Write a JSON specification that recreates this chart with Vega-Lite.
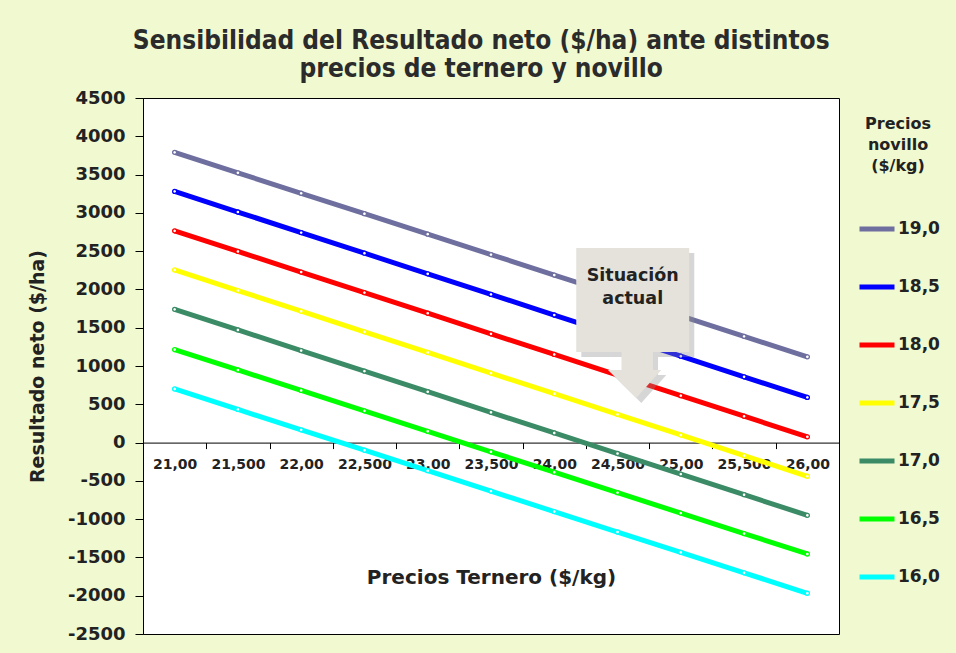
{
  "$schema": "https://vega.github.io/schema/vega-lite/v6.json",
  "autosize": {"type": "none"},
  "padding": {"left": 143, "top": 98, "right": 117, "bottom": 19},
  "width": 696,
  "height": 536,
  "background": "#f1f9d0",
  "title": {
    "text": ["Sensibilidad del Resultado neto ($/ha) ante distintos", "precios de ternero y novillo"],
    "font": "DejaVu Sans Condensed, Liberation Sans Narrow, sans-serif",
    "fontSize": 26,
    "fontWeight": "bold",
    "color": "#2b2b2b",
    "anchor": "middle",
    "frame": "bounds",
    "offset": 7,
    "dx": -12,
    "lineHeight": 28
  },
  "config": {
    "view": {"stroke": "#000000", "strokeWidth": 1, "fill": "#ffffff"},
    "axis": {"grid": false, "domainColor": "#000000", "tickColor": "#000000", "labelColor": "#222222", "titleColor": "#222222", "labelFont": "DejaVu Sans", "titleFont": "DejaVu Sans", "labelFontWeight": "bold", "titleFontWeight": "bold"}
  },
  "datasets": {
    "lines": [
      {"t": 21, "n": "19,0", "r": 3790}, {"t": 21.5, "n": "19,0", "r": 3523}, {"t": 22, "n": "19,0", "r": 3256}, {"t": 22.5, "n": "19,0", "r": 2989}, {"t": 23, "n": "19,0", "r": 2722}, {"t": 23.5, "n": "19,0", "r": 2455}, {"t": 24, "n": "19,0", "r": 2188}, {"t": 24.5, "n": "19,0", "r": 1921}, {"t": 25, "n": "19,0", "r": 1654}, {"t": 25.5, "n": "19,0", "r": 1387}, {"t": 26, "n": "19,0", "r": 1120},
      {"t": 21, "n": "18,5", "r": 3280}, {"t": 21.5, "n": "18,5", "r": 3011}, {"t": 22, "n": "18,5", "r": 2742}, {"t": 22.5, "n": "18,5", "r": 2473}, {"t": 23, "n": "18,5", "r": 2204}, {"t": 23.5, "n": "18,5", "r": 1935}, {"t": 24, "n": "18,5", "r": 1666}, {"t": 24.5, "n": "18,5", "r": 1397}, {"t": 25, "n": "18,5", "r": 1128}, {"t": 25.5, "n": "18,5", "r": 859}, {"t": 26, "n": "18,5", "r": 590},
      {"t": 21, "n": "18,0", "r": 2765}, {"t": 21.5, "n": "18,0", "r": 2496}, {"t": 22, "n": "18,0", "r": 2227}, {"t": 22.5, "n": "18,0", "r": 1958}, {"t": 23, "n": "18,0", "r": 1689}, {"t": 23.5, "n": "18,0", "r": 1420}, {"t": 24, "n": "18,0", "r": 1151}, {"t": 24.5, "n": "18,0", "r": 882}, {"t": 25, "n": "18,0", "r": 613}, {"t": 25.5, "n": "18,0", "r": 344}, {"t": 26, "n": "18,0", "r": 75},
      {"t": 21, "n": "17,5", "r": 2255}, {"t": 21.5, "n": "17,5", "r": 1985}, {"t": 22, "n": "17,5", "r": 1716}, {"t": 22.5, "n": "17,5", "r": 1446}, {"t": 23, "n": "17,5", "r": 1177}, {"t": 23.5, "n": "17,5", "r": 907}, {"t": 24, "n": "17,5", "r": 638}, {"t": 24.5, "n": "17,5", "r": 368}, {"t": 25, "n": "17,5", "r": 99}, {"t": 25.5, "n": "17,5", "r": -171}, {"t": 26, "n": "17,5", "r": -440},
      {"t": 21, "n": "17,0", "r": 1740}, {"t": 21.5, "n": "17,0", "r": 1471}, {"t": 22, "n": "17,0", "r": 1202}, {"t": 22.5, "n": "17,0", "r": 933}, {"t": 23, "n": "17,0", "r": 664}, {"t": 23.5, "n": "17,0", "r": 395}, {"t": 24, "n": "17,0", "r": 126}, {"t": 24.5, "n": "17,0", "r": -143}, {"t": 25, "n": "17,0", "r": -412}, {"t": 25.5, "n": "17,0", "r": -681}, {"t": 26, "n": "17,0", "r": -950},
      {"t": 21, "n": "16,5", "r": 1215}, {"t": 21.5, "n": "16,5", "r": 948}, {"t": 22, "n": "16,5", "r": 681}, {"t": 22.5, "n": "16,5", "r": 414}, {"t": 23, "n": "16,5", "r": 147}, {"t": 23.5, "n": "16,5", "r": -120}, {"t": 24, "n": "16,5", "r": -387}, {"t": 24.5, "n": "16,5", "r": -654}, {"t": 25, "n": "16,5", "r": -921}, {"t": 25.5, "n": "16,5", "r": -1188}, {"t": 26, "n": "16,5", "r": -1455},
      {"t": 21, "n": "16,0", "r": 700}, {"t": 21.5, "n": "16,0", "r": 433}, {"t": 22, "n": "16,0", "r": 166}, {"t": 22.5, "n": "16,0", "r": -100}, {"t": 23, "n": "16,0", "r": -367}, {"t": 23.5, "n": "16,0", "r": -634}, {"t": 24, "n": "16,0", "r": -901}, {"t": 24.5, "n": "16,0", "r": -1168}, {"t": 25, "n": "16,0", "r": -1434}, {"t": 25.5, "n": "16,0", "r": -1701}, {"t": 26, "n": "16,0", "r": -1968}
    ]
  },
  "resolve": {"axis": {"x": "independent"}},
  "layer": [
    {
      "data": {"name": "lines"},
      "mark": {"type": "line", "strokeWidth": 5},
      "encoding": {
        "x": {"field": "t", "type": "quantitative",
          "scale": {"domain": [20.75, 26.25], "nice": false, "zero": false},
          "axis": {"orient": "bottom", "offset": -191.4, "values": [21, 21.5, 22, 22.5, 23, 23.5, 24, 24.5, 25, 25.5, 26], "tickCount": 30,
            "labelExpr": "datum.value % 1 == 0 ? datum.value + ',00' : floor(datum.value) + ',500'",
            "ticks": false, "labelFontSize": 14, "labelPadding": 15, "labelFlush": false, "labelOverlap": false,
            "title": "Precios Ternero ($/kg)", "titleFontSize": 20, "titlePadding": 96}},
        "y": {"field": "r", "type": "quantitative",
          "scale": {"domain": [-2500, 4500], "nice": false, "zero": false},
          "axis": {"values": [-2500, -2000, -1500, -1000, -500, 0, 500, 1000, 1500, 2000, 2500, 3000, 3500, 4000, 4500], "tickCount": 30,
            "labelExpr": "toString(datum.value)", "labelFontSize": 18, "labelOverlap": false, "tickSize": 8, "labelPadding": 10,
            "title": "Resultado neto ($/ha)", "titleFontSize": 19, "titlePadding": 20}},
        "color": {"field": "n", "type": "nominal",
          "scale": {"domain": ["19,0", "18,5", "18,0", "17,5", "17,0", "16,5", "16,0"],
                    "range": ["#6f6f9f", "#0000ff", "#ff0000", "#ffff00", "#3b8c66", "#00ff00", "#00ffff"]},
          "legend": {"title": ["Precios", "novillo", "($/kg)"], "orient": "right", "offset": 0,
            "symbolType": "stroke", "symbolStrokeWidth": 5, "symbolSize": 1225,
            "labelFont": "DejaVu Sans", "labelFontWeight": "bold", "labelFontSize": 17, "labelColor": "#222222", "labelOffset": 1,
            "titleFont": "DejaVu Sans", "titleFontWeight": "bold", "titleFontSize": 16, "titleColor": "#222222",
            "titleAlign": "center", "titleAnchor": "middle", "titleLineHeight": 21, "titlePadding": 35, "rowPadding": 28, "padding": 18}}
      }
    },
    {
      "data": {"name": "lines"},
      "mark": {"type": "point", "filled": true, "fill": "#ffffff", "strokeWidth": 1.3, "size": 16, "opacity": 1},
      "encoding": {
        "x": {"field": "t", "type": "quantitative",
          "axis": {"orient": "bottom", "offset": -191.4, "values": [21.25, 21.75, 22.25, 22.75, 23.25, 23.75, 24.25, 24.75, 25.25, 25.75], "tickCount": 30,
            "labels": false, "domain": false, "ticks": true, "tickSize": 6, "title": null}},
        "y": {"field": "r", "type": "quantitative"},
        "stroke": {"field": "n", "type": "nominal",
          "scale": {"domain": ["19,0", "18,5", "18,0", "17,5", "17,0", "16,5", "16,0"],
                    "range": ["#6f6f9f", "#0000ff", "#ff0000", "#ffff00", "#3b8c66", "#00ff00", "#00ffff"]},
          "legend": null}
      }
    },
    {
      "data": {"values": [{}]},
      "mark": {"type": "point", "filled": true, "fill": "#8a8a8a", "opacity": 0.35, "strokeWidth": 0,
        "shape": "M -0.753 -1 L 0.753 -1 L 0.753 0.387 L 0.27 0.387 L 0.27 0.627 L 0.38 0.627 L 0.047 1 L -0.33 0.627 L -0.15 0.627 L -0.15 0.387 L -0.753 0.387 Z",
        "size": 22500},
      "encoding": {
        "x": {"datum": 24.66, "type": "quantitative", "axis": null},
        "y": {"datum": 1497, "type": "quantitative"}
      }
    },
    {
      "data": {"values": [{}]},
      "mark": {"type": "point", "filled": true, "fill": "#e4e2da", "opacity": 1, "strokeWidth": 0,
        "shape": "M -0.753 -1 L 0.753 -1 L 0.753 0.387 L 0.27 0.387 L 0.27 0.627 L 0.38 0.627 L 0.047 1 L -0.33 0.627 L -0.15 0.627 L -0.15 0.387 L -0.753 0.387 Z",
        "size": 22500},
      "encoding": {
        "x": {"datum": 24.62, "type": "quantitative", "axis": null},
        "y": {"datum": 1562, "type": "quantitative"}
      }
    },
    {
      "data": {"values": [{}]},
      "mark": {"type": "text", "text": ["Situación", "actual"], "font": "DejaVu Sans", "fontWeight": "bold", "fontSize": 17.5, "lineHeight": 23, "color": "#222222", "align": "center", "baseline": "middle"},
      "encoding": {
        "x": {"datum": 24.62, "type": "quantitative", "axis": null},
        "y": {"datum": 2175, "type": "quantitative"}
      }
    }
  ]
}
